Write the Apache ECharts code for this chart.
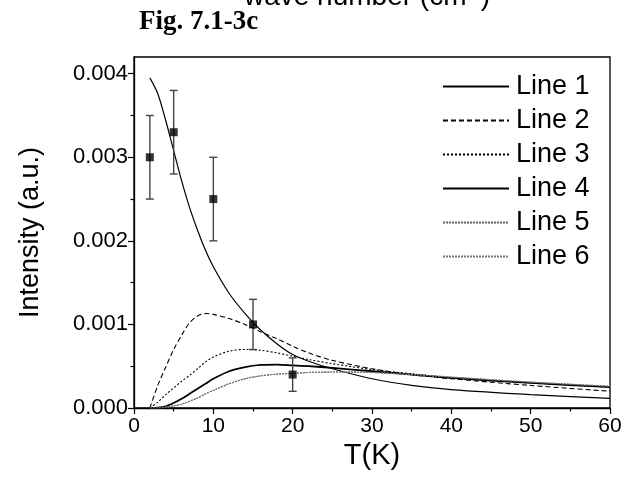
<!DOCTYPE html>
<html>
<head>
<meta charset="utf-8">
<script src="https://cdn.jsdelivr.net/npm/echarts@6/dist/echarts.min.js"></script>
<style>
html,body{margin:0;padding:0;background:#fff;}
#c{width:625px;height:477px;}
</style>
</head>
<body>
<div id="c"></div>
<script>
// ---- data ----
const xGrid = [2, 3, 4, 5, 6, 7, 8, 9, 10, 12, 14, 16, 18, 20, 22, 25, 30, 35, 40, 50, 60];
const line1 = [3.95, 3.76, 3.44, 3.08, 2.72, 2.40, 2.13, 1.89, 1.69, 1.37, 1.13, 0.93, 0.77, 0.64, 0.56, 0.47, 0.35, 0.27, 0.22, 0.16, 0.115];
const line2 = [0.0, 0.27, 0.49, 0.70, 0.87, 1.02, 1.10, 1.13, 1.12, 1.07, 1.00, 0.91, 0.83, 0.74, 0.66, 0.57, 0.47, 0.40, 0.35, 0.27, 0.20];
const line3 = [0.0, 0.07, 0.16, 0.24, 0.32, 0.39, 0.47, 0.55, 0.61, 0.68, 0.70, 0.69, 0.66, 0.62, 0.58, 0.53, 0.46, 0.41, 0.36, 0.30, 0.25];
const line4 = [0.0, 0.003, 0.02, 0.06, 0.11, 0.17, 0.23, 0.29, 0.35, 0.44, 0.49, 0.515, 0.52, 0.51, 0.50, 0.48, 0.44, 0.40, 0.36, 0.30, 0.25];
const line5 = [0.0, 0.0, 0.01, 0.025, 0.045, 0.08, 0.12, 0.17, 0.21, 0.29, 0.35, 0.385, 0.405, 0.415, 0.425, 0.43, 0.425, 0.40, 0.37, 0.31, 0.26];
const line6 = [0.0, 0.0, 0.01, 0.025, 0.045, 0.08, 0.12, 0.17, 0.21, 0.29, 0.35, 0.385, 0.405, 0.415, 0.425, 0.43, 0.425, 0.40, 0.37, 0.31, 0.26];
const lineScale = 0.001;
const seriesNames = ['Line 1', 'Line 2', 'Line 3', 'Line 4', 'Line 5', 'Line 6'];

const expX = [2, 5, 10, 15, 20];
const expY = [0.0030, 0.0033, 0.0025, 0.0010, 0.0004];
const expLow = [0.0025, 0.0028, 0.0020, 0.0007, 0.0002];
const expHigh = [0.0035, 0.0038, 0.0030, 0.0013, 0.0006];

const xTicks = [0, 10, 20, 30, 40, 50, 60];
const yTicks = [0, 0.001, 0.002, 0.003, 0.004];

// ---- build ----
const FONT = 'Liberation Sans, Arial, sans-serif';
function pairs(ys) { return xGrid.map((x, i) => [x, ys[i] * lineScale]); }
const lineData = [line1, line2, line3, line4, line5, line6];
const lineStyles = [
  {color: '#000', width: 1.2, type: 'solid'},
  {color: '#000', width: 1.1, type: [5, 3]},
  {color: '#000', width: 1.1, type: [2, 2]},
  {color: '#000', width: 1.8, type: 'solid'},
  {color: '#666', width: 1.1, type: [2, 1]},
  {color: '#777', width: 1.1, type: [2, 1]}
];

const series = lineData.map((ys, i) => ({
  name: seriesNames[i],
  type: 'line',
  data: pairs(ys),
  smooth: 0.3,
  symbol: 'none',
  showSymbol: false,
  lineStyle: lineStyles[i],
  itemStyle: {color: lineStyles[i].color},
  z: 3
}));

series.push({
  type: 'custom',
  name: 'err',
  data: expX.map((x, i) => [x, expLow[i], expHigh[i]]),
  renderItem: function (params, api) {
    const lo = api.coord([api.value(0), api.value(1)]);
    const hi = api.coord([api.value(0), api.value(2)]);
    const w = 4;
    const st = {stroke: '#444', lineWidth: 1.4};
    return {
      type: 'group',
      children: [
        {type: 'line', shape: {x1: lo[0], y1: lo[1], x2: hi[0], y2: hi[1]}, style: st},
        {type: 'line', shape: {x1: lo[0] - w, y1: lo[1], x2: lo[0] + w, y2: lo[1]}, style: st},
        {type: 'line', shape: {x1: hi[0] - w, y1: hi[1], x2: hi[0] + w, y2: hi[1]}, style: st}
      ]
    };
  },
  z: 4
});
series.push({
  type: 'scatter',
  name: 'exp',
  data: expX.map((x, i) => [x, expY[i]]),
  symbol: 'rect',
  symbolSize: 8,
  itemStyle: {color: '#000'},
  z: 5
});

const chart = echarts.init(document.getElementById('c'), null, {renderer: 'canvas'});
chart.setOption({
  animation: false,
  backgroundColor: '#fff',
  grid: {left: 134, right: 15, top: 57, bottom: 69, show: true, borderColor: '#000', borderWidth: 1.3, containLabel: false},
  legend: {
    data: seriesNames,
    orient: 'vertical',
    left: 437,
    top: 68,
    itemWidth: 66,
    itemHeight: 14,
    itemGap: 7,
    itemStyle: {opacity: 0},
    textStyle: {fontFamily: FONT, fontSize: 27, color: '#000', lineHeight: 27, padding: [0, 0, 0, 2]},
    selectedMode: false
  },
  graphic: [
    {type: 'text', left: 139, top: 9, style: {text: 'Fig. 7.1-3c', font: 'bold 27px "Liberation Serif", "Times New Roman", serif', fill: '#000'}},
    {type: 'text', x: 367, y: 11, style: {text: 'wave number (cm{s|-1})', rich: {s: {fontSize: 16, verticalAlign: 'top', fontFamily: FONT}}, fontFamily: FONT, fontSize: 28, fill: '#000', textAlign: 'center', textVerticalAlign: 'bottom'}}
  ],
  xAxis: {
    type: 'value', min: 0, max: 60, interval: 10,
    name: 'T(K)', nameLocation: 'middle', nameGap: 31,
    nameTextStyle: {fontFamily: FONT, fontSize: 29, color: '#000'},
    axisLine: {show: true, lineStyle: {color: '#000', width: 1.3}},
    axisTick: {show: true, inside: false, length: 6, lineStyle: {color: '#000', width: 1.2}},
    minorTick: {show: true, splitNumber: 2, length: 3.5, lineStyle: {color: '#000', width: 1.2}},
    axisLabel: {fontFamily: FONT, fontSize: 21, color: '#000', margin: 8},
    splitLine: {show: false}
  },
  yAxis: {
    type: 'value', min: 0, max: 0.0042, interval: 0.001,
    name: 'Intensity (a.u.)', nameLocation: 'middle', nameGap: 90,
    nameTextStyle: {fontFamily: FONT, fontSize: 27, color: '#000'},
    axisLine: {show: true, lineStyle: {color: '#000', width: 1.3}},
    axisTick: {show: true, inside: false, length: 6, lineStyle: {color: '#000', width: 1.2}, customValues: yTicks},
    minorTick: {show: true, splitNumber: 2, length: 3.5, lineStyle: {color: '#000', width: 1.2}},
    axisLabel: {fontFamily: FONT, fontSize: 22, color: '#000', margin: 6, customValues: yTicks, formatter: v => v.toFixed(3)},
    splitLine: {show: false}
  },
  series: series
});
</script>
</body>
</html>
